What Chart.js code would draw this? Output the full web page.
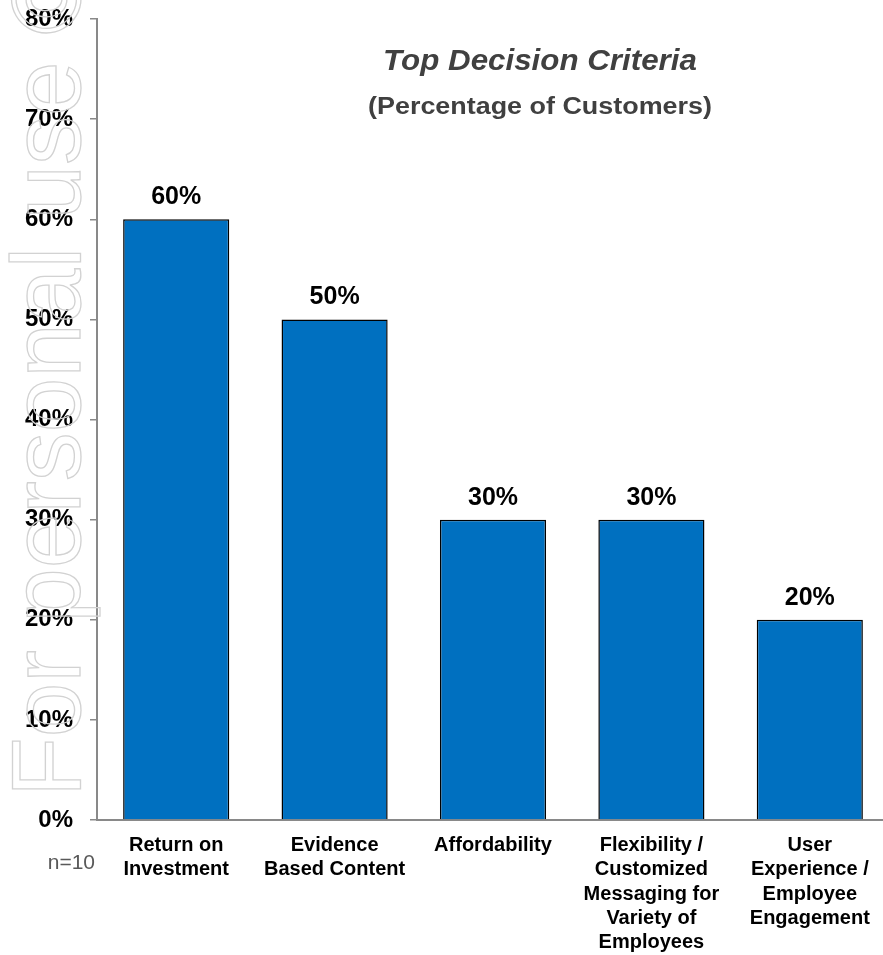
<!DOCTYPE html>
<html>
<head>
<meta charset="utf-8">
<script src="https://cdn.jsdelivr.net/npm/chart.js@4"></script>
<style>
    html, body { margin: 0; padding: 0; overflow: hidden; background: #fff; }
    #wrap { position: relative; width: 889px; height: 955px; }
</style>
</head>
<body>
<div id="wrap"><canvas id="myChart"></canvas></div>
<script>
    const categories = [
        ['Return on', 'Investment'],
        ['Evidence', 'Based Content'],
        ['Affordability'],
        ['Flexibility /', 'Customized', 'Messaging for', 'Variety of', 'Employees'],
        ['User', 'Experience /', 'Employee', 'Engagement'],
    ];
    const percentCustomers = [60, 50, 30, 30, 20];
    const yTicks = [0, 10, 20, 30, 40, 50, 60, 70, 80];

    const FONT = '"Liberation Sans", Arial, sans-serif';

    // value labels above the bars
    const barLabels = {
        id: 'barLabels',
        afterDatasetsDraw(chart) {
            const ctx = chart.ctx;
            const meta = chart.getDatasetMeta(0);
            ctx.save();
            ctx.font = 'bold 25px ' + FONT;
            ctx.fillStyle = '#000';
            ctx.textAlign = 'center';
            ctx.textBaseline = 'alphabetic';
            meta.data.forEach(function(bar, i) {
                ctx.fillText(percentCustomers[i] + '%', bar.x, bar.y - 15);
            });
            ctx.restore();
        }
    };

    // title, subtitle, sample size note and the watermark
    const extras = {
        id: 'extras',
        afterDraw(chart) {
            const ctx = chart.ctx;
            ctx.save();
            ctx.fillStyle = '#404040';
            ctx.textAlign = 'center';
            ctx.textBaseline = 'middle';

            ctx.save();
            ctx.translate(540, 62);
            ctx.scale(1.08, 1);
            ctx.font = 'italic bold 29px ' + FONT;
            ctx.fillText('Top Decision Criteria', 0, 0);
            ctx.restore();

            ctx.save();
            ctx.translate(540, 108);
            ctx.scale(1.17, 1);
            ctx.font = 'bold 23px ' + FONT;
            ctx.fillText('(Percentage of Customers)', 0, 0);
            ctx.restore();

            ctx.fillStyle = '#595959';
            ctx.textAlign = 'right';
            ctx.font = '21px ' + FONT;
            ctx.fillText('n=10', 95, 863);

            ctx.translate(80, 797);
            ctx.rotate(-Math.PI / 2);
            ctx.font = '98px ' + FONT;
            ctx.textAlign = 'left';
            ctx.textBaseline = 'alphabetic';
            ctx.strokeStyle = '#d2d2d2';
            ctx.lineWidth = 1.3;
            ctx.strokeText('For personal use \u00a9', 0, 0);
            ctx.restore();
        }
    };

    const data = {
        labels: categories,
        datasets: [{
            data: percentCustomers,
            backgroundColor: '#0070C0',
            borderColor: '#000000',
            borderWidth: 1.5,
            categoryPercentage: 1,
            barPercentage: 0.67,
        }]
    };

    const config = {
        type: 'bar',
        data: data,
        options: {
            responsive: true,
            maintainAspectRatio: false,
            animation: false,
            layout: {
                padding: { top: 19, left: 0, right: 0, bottom: 0 }
            },
            plugins: {
                legend: { display: false },
                tooltip: { enabled: false },
            },
            scales: {
                y: {
                    min: yTicks[0],
                    max: yTicks[yTicks.length - 1],
                    afterBuildTicks: function(scale) {
                        scale.ticks = yTicks.map(function(v) { return { value: v }; });
                    },
                    afterFit: function(scale) {
                        scale.width = 97;
                        scale.paddingTop = 0;
                        scale.paddingBottom = 0;
                    },
                    ticks: {
                        callback: function(v) { return v + '%'; },
                        color: '#000',
                        padding: 17,
                        font: { family: FONT, size: 24, weight: 'bold' },
                    },
                    grid: {
                        drawOnChartArea: false,
                        drawTicks: true,
                        tickLength: 7,
                        color: '#898989',
                        lineWidth: 1.5,
                    },
                    border: { display: true, color: '#898989', width: 2 },
                },
                x: {
                    afterFit: function(scale) {
                        scale.height = 135;
                        scale.paddingLeft = 0;
                        scale.paddingRight = 0;
                    },
                    ticks: {
                        color: '#000',
                        padding: 13,
                        maxRotation: 0,
                        autoSkip: false,
                        font: { family: FONT, size: 20, weight: 'bold', lineHeight: 1.22 },
                    },
                    grid: { drawOnChartArea: false, drawTicks: false },
                    border: { display: true, color: '#898989', width: 2 },
                }
            }
        },
        plugins: [barLabels, extras],
    };

    var myChart = new Chart(
        document.getElementById('myChart'),
        config
    );
</script>
</body>
</html>
